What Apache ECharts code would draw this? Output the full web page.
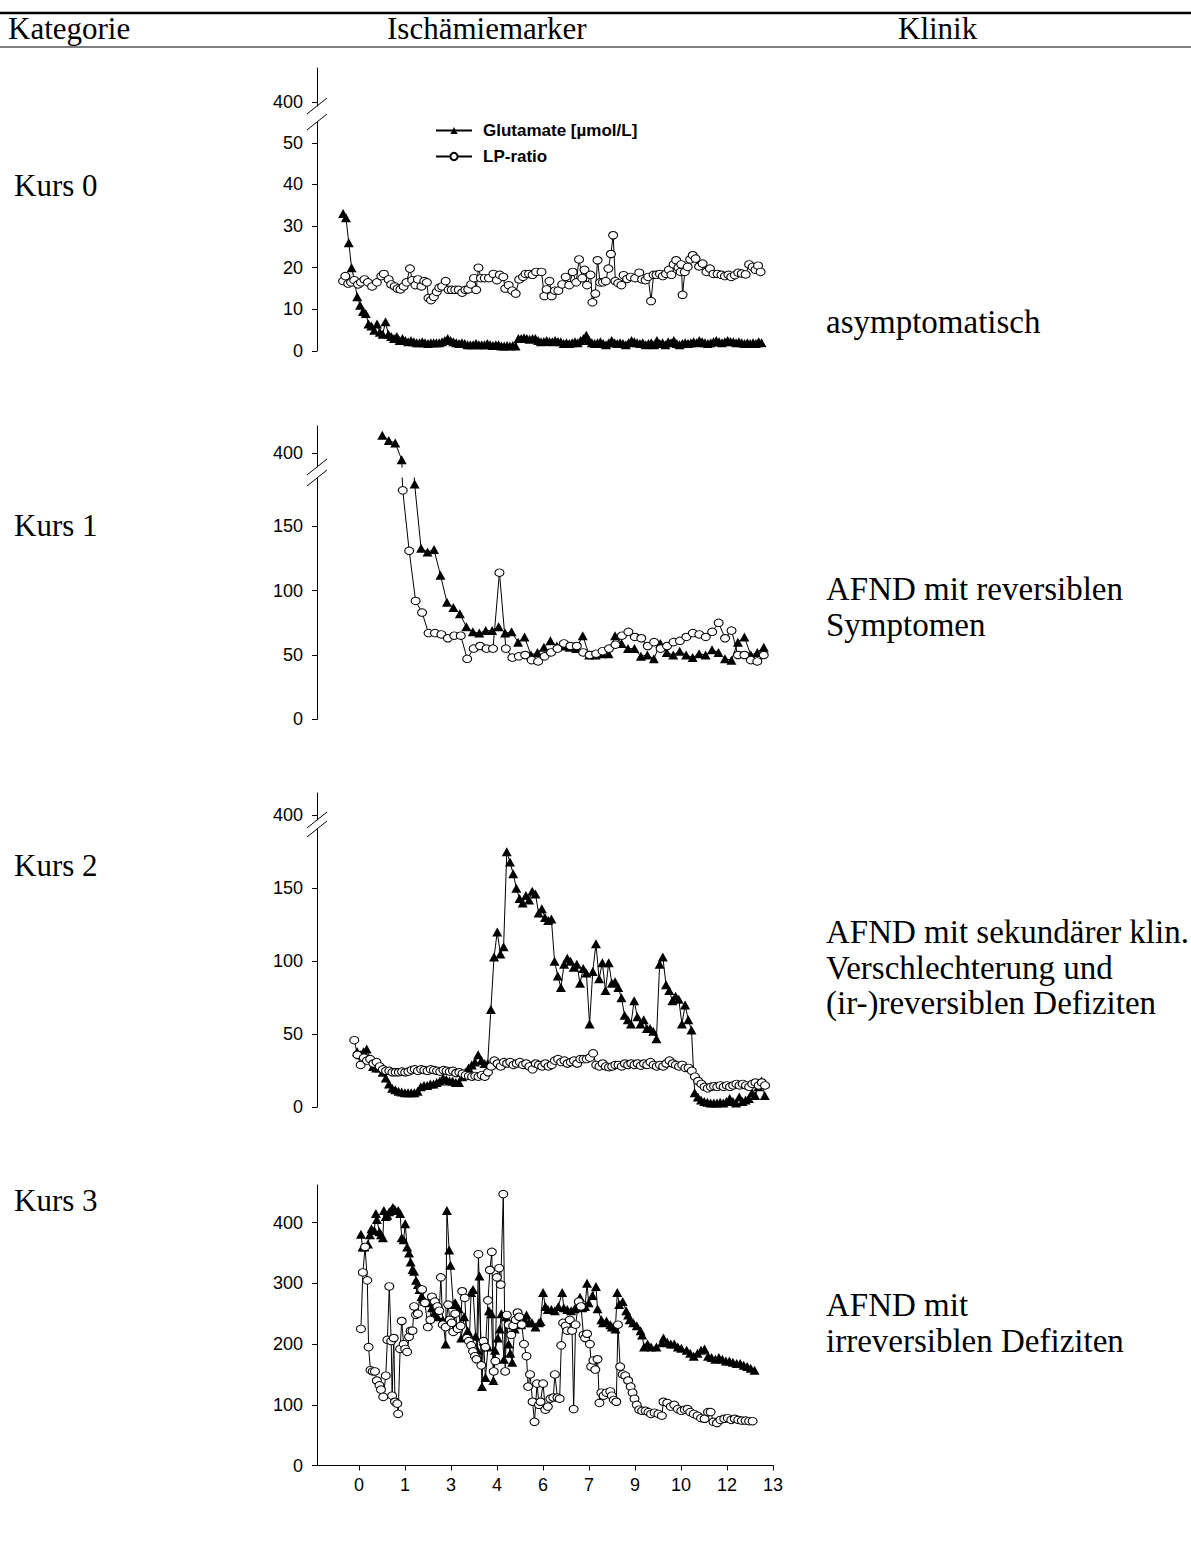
<!DOCTYPE html>
<html lang="de">
<head>
<meta charset="UTF-8" />
<title>Ischämiemarker</title>
<style>
  html, body { margin: 0; padding: 0; background: #fff; }
  #main { width: 1191px; height: 1557px; }
</style>
</head>
<body>
<div id="main"></div>
<script src="https://cdn.jsdelivr.net/npm/echarts@6.0.0/dist/echarts.min.js"></script>
<script>
// ===== Daten =====
const headers = ['Kategorie', 'Ischämiemarker', 'Klinik'];
const kategorien = ['Kurs 0', 'Kurs 1', 'Kurs 2', 'Kurs 3'];
const klinik = [
  ['asymptomatisch'],
  ['AFND mit reversiblen', 'Symptomen'],
  ['AFND mit sekundärer klin.', 'Verschlechterung und', '(ir-)reversiblen Defiziten'],
  ['AFND mit', 'irreversiblen Defiziten']
];
const seriesNames = ['Glutamate [µmol/L]', 'LP-ratio'];

// x-Achse (Tage), gleichmäßige Ticks
const xTickLabels = ['0', '1', '3', '4', '6', '7', '9', '10', '12', '13'];
const xTickStep = 13 / 9;

// y-Ticks
const breakTicks = [400];
const kurs0Ticks = [0, 10, 20, 30, 40, 50];
const kurs1Ticks = [0, 50, 100, 150];
const kurs2Ticks = [0, 50, 100, 150];
const kurs3Ticks = [0, 100, 200, 300, 400];

// Kurs 0 – Glutamat, regelmäßig von Tag -0.50 bis 12.64
const kurs0GluTime = [-0.50, 12.64];
const kurs0Glu = [33, 32, 26, 20, 17, 13, 11, 9.5, 9, 6.5,
  6, 5, 6.5, 4.5, 4, 7, 4, 3.5, 3, 3.5,
  2.5, 3, 2.5, 2.2, 2.5, 2.2, 2, 2, 2.2, 2,
  1.8, 2, 2, 2, 2, 2.2, 2.5, 3, 2.5, 2.2, 2, 1.8,
  2, 1.8, 1.5, 1.5, 1.5, 1.8, 1.5, 1.5, 1.5, 1.8,
  1.5, 1.3, 1.5, 1.5, 1.2, 1.2, 1.3, 1.2, 1.3, 1.2, 3, 3,
  3.2, 3, 2.8, 3, 3, 2.5, 2.2, 2.3, 2.5, 2.3,
  2.2, 2.5, 2.3, 2.2, 1.8, 2, 1.8, 2, 2.2,
  2, 2.5, 3, 3.8, 2.5, 2, 1.8, 2, 2.2, 1.8,
  1.5, 2, 2.5, 2, 1.8, 2, 1.8, 1.5, 2, 2.5,
  2.2, 2, 1.8, 2, 1.5, 1.8, 2, 1.5, 2.5, 1.8,
  2, 1.5, 2.2, 2, 2.5, 1.8, 1.5, 1.8, 2, 1.8,
  2, 2.2, 2, 2.5, 2.2, 2, 1.8, 2, 2.2, 2.5,
  2.2, 2, 2.2, 2.5, 2.3, 2.2, 2, 2.2, 2, 1.8,
  2, 1.8, 2, 1.8, 2.2, 2];

// Kurs 0 – LP-ratio [Tag, Wert]
const kurs0Lp = [[-0.50,16.8],[-0.43,18],[-0.34,16.2],[-0.25,16.5],[-0.15,17],[-0.03,16],[0.06,16.5],[0.17,17.2],[0.28,16.5],[0.41,15.5],
  [0.56,16.5],[0.70,18],[0.78,18.5],[0.93,17.2],[1.01,16],[1.12,15.5],[1.21,15],[1.30,14.8],[1.40,15.5],[1.49,16.5],
  [1.60,19.8],[1.67,17],[1.77,15.8],[1.85,17.2],[1.96,15.5],[2.05,16.8],[2.13,16.5],[2.18,12.7],[2.26,12.2],[2.35,13],
  [2.44,14.2],[2.52,15.2],[2.61,15.5],[2.72,16.8],[2.81,14.7],[2.91,14.7],[3.02,14.7],[3.13,14.7],[3.24,14],[3.34,14.7],
  [3.43,14.8],[3.52,16],[3.61,17.5],[3.68,14.7],[3.75,20],[3.83,17.5],[3.95,17.5],[4.08,17.5],[4.22,18.5],[4.33,17],
  [4.42,18.3],[4.53,17.8],[4.59,15],[4.70,15.8],[4.81,14.5],[4.92,13.8],[5.03,17.2],[5.15,17.8],[5.23,18.5],[5.34,18.5],
  [5.45,18.3],[5.56,19],[5.73,19],[5.82,13.2],[5.89,14.8],[5.98,16.8],[6.05,13.2],[6.15,14.5],[6.26,14.5],[6.38,16],
  [6.49,17.8],[6.60,15.8],[6.71,19],[6.82,16.5],[6.91,22],[7.01,17.5],[7.08,19.5],[7.16,15.8],[7.27,18.3],[7.33,11.7],
  [7.42,13.8],[7.49,21.8],[7.57,16.5],[7.66,16.5],[7.75,16.8],[7.83,19.8],[7.91,23.3],[7.98,27.8],[8.05,16.8],[8.14,16.3],
  [8.24,15.8],[8.31,18.2],[8.42,17.3],[8.53,17.8],[8.67,17.5],[8.80,18.8],[8.89,17.2],[9.00,17],[9.08,17.8],[9.17,12],
  [9.25,18.3],[9.34,18.3],[9.45,18.5],[9.54,18],[9.64,18.5],[9.73,19.5],[9.81,18.3],[9.88,20.8],[9.96,21.8],[10.03,20],
  [10.10,19],[10.12,20.8],[10.16,13.5],[10.23,19],[10.32,20.2],[10.40,22],[10.48,23],[10.57,22.2],[10.68,20.3],[10.79,21],
  [10.91,19],[11.02,19.8],[11.13,18.5],[11.26,18.5],[11.38,18.3],[11.49,18],[11.60,18.3],[11.69,17.8],[11.80,18.2],[11.91,18.8],
  [12.02,18.6],[12.14,18.4],[12.25,20.8],[12.36,20.2],[12.45,19.5],[12.53,20.5],[12.61,19]];

// Kurs 1 – regelmäßig (Werte im Achsenbruch sind nicht sichtbar)
const kurs1GluTime = [0.73, 12.71];
const kurs1Glu = [414, 410, 408, 395, 280, 183, 133, 130, 132, 112,
  91, 87, 82, 72, 68, 67, 69, 69, 72, 67,
  68, 60, 64, 50, 52, 56, 61, 57, 57, 56,
  55, 65, 50, 50, 51, 51, 65, 59, 55, 55,
  49, 50, 47, 59, 52, 50, 53, 50, 48, 51,
  50, 54, 52, 47, 46, 60, 64, 50, 52, 56];
const kurs1LpTime = [1.17, 12.71];
const kurs1Lp = [300, 178, 131, 92, 83, 67, 67, 66, 63, 65,
  65, 47, 55, 57, 55, 55, 114, 55, 48, 49,
  50, 46, 45, 49, 52, 55, 59, 57, 57, 52,
  50, 51, 53, 55, 58, 65, 68, 64, 63, 57,
  60, 55, 57, 60, 61, 64, 67, 66, 64, 68,
  75, 63, 69, 50, 50, 46, 45, 50];

// Kurs 2 – regelmäßig
const kurs2GluTime = [-0.06, 12.74];
const kurs2Glu = [38, 36, 38, 40, 33, 28, 27, 27, 24, 20,
  16, 13, 12, 11, 10.5, 10, 10, 10, 10, 11,
  14, 15, 15, 16, 16, 17, 18, 20, 19, 18,
  18, 17, 17, 21, 24, 27, 29, 31, 36, 32,
  30, 30, 67, 103, 120, 105, 110, 175, 168, 160,
  150, 143, 140, 145, 142, 148, 146, 133, 136, 130,
  128, 129, 100, 90, 82, 98, 102, 100, 96, 98,
  85, 95, 92, 57, 93, 112, 88, 99, 80, 99,
  85, 86, 82, 75, 63, 60, 57, 73, 62, 57,
  60, 54, 54, 52, 47, 98, 103, 84, 80, 73,
  76, 74, 57, 70, 60, 53, 10, 7, 5, 4,
  3.5, 3, 3, 3, 3.5, 3, 4, 6, 4, 3,
  7, 4, 5, 6, 10, 8, 14, 18, 8];
const kurs2LpTime = [-0.15, 12.75];
const kurs2Lp = [46, 36, 29, 34, 32, 33, 30, 31, 28, 26,
  25, 25, 24, 24, 24, 24.5, 24, 24.5, 25.5, 26,
  25, 26, 25.5, 25, 26, 25.5, 25, 24.5, 25.5, 25,
  24.5, 25, 23.5, 24, 23, 22, 21.5, 21, 21.5, 21,
  22, 21, 24, 28, 32, 30, 28, 31, 30, 31,
  29, 30, 31, 29, 30, 28, 26, 30, 29, 28,
  30, 28, 29, 32, 33, 31, 32, 30, 31, 32,
  30, 33, 33, 33, 34, 37, 29, 28, 30, 28,
  27.5, 28, 29, 29, 28, 30, 29, 30, 29, 30,
  28.5, 30, 29, 31, 29, 28, 29, 28, 30, 32,
  30, 29, 28, 29, 27, 27, 25, 21, 18, 16,
  14, 13, 14, 14.5, 14, 15, 14, 15, 14, 15,
  16, 15, 16, 15, 14, 16, 17, 15, 17, 15];

// Kurs 3 – [Tag, Wert]
const kurs3Glu = [[0.06,381],[0.11,360],[0.17,360],[0.28,365],[0.34,380],[0.39,390],[0.48,387],[0.53,415],[0.56,405],[0.64,385],
  [0.69,380],[0.75,375],[0.78,420],[0.84,410],[0.89,412],[0.95,418],[1.01,420],[1.06,425],[1.12,422],[1.23,420],
  [1.29,415],[1.34,375],[1.40,372],[1.45,398],[1.51,360],[1.57,350],[1.62,335],[1.68,323],[1.73,320],[1.79,305],
  [1.85,298],[1.90,290],[1.96,278],[2.01,275],[2.07,270],[2.18,268],[2.29,260],[2.35,250],[2.46,245],[2.63,240],
  [2.72,200],[2.76,420],[2.83,355],[2.87,330],[2.96,265],[3.02,268],[3.13,258],[3.21,210],[3.30,245],[3.41,222],
  [3.47,215],[3.52,285],[3.58,290],[3.66,213],[3.72,190],[3.78,312],[3.86,130],[3.91,205],[3.97,145],[4.05,195],
  [4.08,255],[4.16,250],[4.22,140],[4.27,190],[4.36,210],[4.42,225],[4.47,250],[4.55,175],[4.62,245],[4.70,200],
  [4.75,185],[4.81,170],[4.89,225],[4.98,240],[5.09,232],[5.20,240],[5.26,248],[5.34,235],[5.43,235],[5.54,228],
  [5.65,235],[5.70,237],[5.78,285],[5.85,262],[5.93,257],[6.04,257],[6.15,255],[6.26,262],[6.38,285],[6.43,260],
  [6.54,257],[6.66,255],[6.77,258],[6.88,265],[6.94,277],[7.01,260],[7.10,262],[7.16,300],[7.21,268],[7.33,280],
  [7.44,295],[7.49,258],[7.61,240],[7.66,235],[7.77,238],[7.89,232],[7.94,228],[8.05,225],[8.11,285],[8.17,265],
  [8.28,270],[8.39,255],[8.45,248],[8.50,240],[8.61,235],[8.72,230],[8.84,222],[8.89,215],[8.95,195],[9.06,200],
  [9.17,195],[9.34,195],[9.51,202],[9.56,210],[9.68,203],[9.79,200],[9.90,200],[10.01,195],[10.12,193],[10.29,190],
  [10.40,185],[10.51,180],[10.63,185],[10.74,190],[10.85,192],[10.96,180],[11.07,178],[11.19,175],[11.30,178],[11.41,175],
  [11.52,172],[11.63,172],[11.74,170],[11.86,168],[11.97,168],[12.08,165],[12.19,163],[12.30,160],[12.42,157]];
const kurs3Lp = [[0.06,225],[0.12,318],[0.19,360],[0.26,305],[0.30,195],[0.36,157],[0.43,155],[0.50,155],[0.56,140],[0.64,132],
  [0.69,125],[0.76,113],[0.84,148],[0.89,207],[0.95,295],[1.01,205],[1.04,115],[1.09,210],[1.13,105],[1.20,102],
  [1.23,85],[1.29,192],[1.34,238],[1.40,200],[1.45,192],[1.51,187],[1.57,212],[1.62,222],[1.68,222],[1.73,262],
  [1.79,248],[1.85,250],[1.94,290],[1.98,290],[2.07,268],[2.16,228],[2.24,240],[2.29,278],[2.38,270],[2.46,262],
  [2.52,255],[2.57,310],[2.63,232],[2.72,228],[2.80,265],[2.85,240],[2.91,235],[2.96,220],[3.02,250],[3.10,225],
  [3.19,230],[3.24,287],[3.32,276],[3.39,210],[3.45,205],[3.52,198],[3.58,188],[3.64,180],[3.69,175],[3.75,348],
  [3.84,165],[3.91,205],[3.97,195],[4.05,272],[4.11,322],[4.17,352],[4.23,155],[4.28,172],[4.33,310],[4.40,325],
  [4.45,298],[4.53,447],[4.59,155],[4.64,248],[4.70,232],[4.78,215],[4.84,230],[4.92,240],[4.98,252],[5.03,245],
  [5.11,232],[5.18,200],[5.26,180],[5.31,130],[5.37,150],[5.45,105],[5.51,72],[5.59,135],[5.65,100],[5.70,105],
  [5.78,135],[5.85,92],[5.93,97],[6.01,110],[6.10,112],[6.15,150],[6.23,112],[6.30,110],[6.35,198],[6.41,235],
  [6.49,230],[6.54,222],[6.62,240],[6.69,222],[6.74,93],[6.80,232],[6.90,270],[6.97,262],[7.05,215],[7.10,210],
  [7.16,217],[7.25,200],[7.29,163],[7.36,173],[7.42,158],[7.49,175],[7.55,103],[7.61,120],[7.68,115],[7.77,120],
  [7.89,122],[7.94,115],[8.00,108],[8.08,105],[8.13,232],[8.20,163],[8.28,150],[8.36,148],[8.45,140],[8.53,130],
  [8.59,120],[8.65,110],[8.72,100],[8.80,92],[8.89,90],[9.00,90],[9.09,88],[9.17,85],[9.28,87],[9.40,85],
  [9.51,82],[9.56,105],[9.68,103],[9.79,97],[9.90,100],[10.01,93],[10.12,90],[10.23,92],[10.32,93],[10.40,88],
  [10.51,85],[10.63,82],[10.74,78],[10.85,77],[10.96,88],[11.04,88],[11.13,72],[11.24,70],[11.35,75],[11.47,77],
  [11.58,78],[11.69,75],[11.80,77],[11.91,75],[12.02,74],[12.14,74],[12.25,73],[12.36,73]];
// ===== Daten Ende =====

function evenly(time, values) {
  const dt = (time[1] - time[0]) / (values.length - 1);
  return values.map((v, i) => [time[0] + i * dt, v]);
}

const panelData = [
  { glu: evenly(kurs0GluTime, kurs0Glu), lp: kurs0Lp },
  { glu: evenly(kurs1GluTime, kurs1Glu), lp: evenly(kurs1LpTime, kurs1Lp) },
  { glu: evenly(kurs2GluTime, kurs2Glu), lp: evenly(kurs2LpTime, kurs2Lp) },
  { glu: kurs3Glu, lp: kurs3Lp }
];

// Layout: jeder Kurs hat ein oder zwei Segmente (Achsenbruch)
const SERIF = '"Liberation Serif", "Times New Roman", serif';
const SANS = '"Liberation Sans", Arial, sans-serif';
const plotLeft = 317, plotWidth = 456;
const xMin = -1.32, xMax = 13;

const panelLayout = [
  { segs: [{ top: 68, bottom: 106, min: 396, max: 434, ticks: breakTicks },
           { top: 122, bottom: 351, min: 0, max: 55, ticks: kurs0Ticks }], breaks: [106, 122] },
  { segs: [{ top: 426, bottom: 467, min: 389.3, max: 421.2, ticks: breakTicks },
           { top: 478, bottom: 719.3, min: 0, max: 187.6, ticks: kurs1Ticks }], breaks: [467, 478] },
  { segs: [{ top: 793, bottom: 820, min: 396.6, max: 415.1, ticks: breakTicks },
           { top: 829, bottom: 1107.3, min: 0, max: 190.6, ticks: kurs2Ticks }], breaks: [820, 829] },
  { segs: [{ top: 1185, bottom: 1465.5, min: 0, max: 462, ticks: kurs3Ticks }], breaks: [] }
];

const xTickValues = xTickLabels.map((_, i) => i * xTickStep);

const grids = [], xAxes = [], yAxes = [], series = [];
panelLayout.forEach((panel, p) => {
  panel.segs.forEach((seg, s) => {
    const g = grids.length;
    const isBottom = p === panelLayout.length - 1 && s === panel.segs.length - 1;
    grids.push({ left: plotLeft, width: plotWidth, top: seg.top, height: seg.bottom - seg.top });
    xAxes.push({
      type: 'value', gridIndex: g, min: xMin, max: xMax, show: isBottom,
      axisLine: { show: true, onZero: false, lineStyle: { color: '#000', width: 1 } },
      axisTick: { show: true, length: 5, customValues: xTickValues, lineStyle: { color: '#000' } },
      axisLabel: {
        show: true, customValues: xTickValues, margin: 10,
        color: '#000', fontFamily: SANS, fontSize: 18,
        formatter: v => xTickLabels[Math.round(v / xTickStep)]
      },
      splitLine: { show: false }
    });
    yAxes.push({
      type: 'value', gridIndex: g, min: seg.min, max: seg.max,
      axisLine: { show: true, onZero: false, lineStyle: { color: '#000', width: 1 } },
      axisTick: { show: true, length: 5, customValues: seg.ticks, lineStyle: { color: '#000' } },
      axisLabel: {
        show: true, customValues: seg.ticks, margin: 14,
        color: '#000', fontFamily: SANS, fontSize: 18,
        formatter: v => (seg.ticks.includes(v) ? String(v) : '')
      },
      splitLine: { show: false }
    });
    series.push({
      type: 'line', name: seriesNames[0], xAxisIndex: g, yAxisIndex: g,
      data: panelData[p].glu,
      symbol: 'triangle', symbolSize: [10, 9], showAllSymbol: true,
      lineStyle: { color: '#000', width: 1 },
      itemStyle: { color: '#000' },
      emphasis: { disabled: true }, silent: true, z: 2
    });
    series.push({
      type: 'line', name: seriesNames[1], xAxisIndex: g, yAxisIndex: g,
      data: panelData[p].lp,
      symbol: 'circle', symbolSize: [9, 7.5], showAllSymbol: true,
      lineStyle: { color: '#000', width: 1 },
      itemStyle: { color: '#fff', borderColor: '#000', borderWidth: 1 },
      emphasis: { disabled: true }, silent: true, z: 3
    });
  });
});

// Grafik: Kopfzeile, Beschriftungen, Bruchzeichen
const graphics = [
  { type: 'line', shape: { x1: 0, y1: 13, x2: 1191, y2: 13 }, style: { stroke: '#000', lineWidth: 2.5 } },
  { type: 'line', shape: { x1: 0, y1: 47, x2: 1191, y2: 47 }, style: { stroke: '#000', lineWidth: 1.2 } }
];
const headerX = [8, 387, 898];
headers.forEach((h, i) => {
  graphics.push({ type: 'text', x: headerX[i], y: 28,
    style: { text: h, font: '31px ' + SERIF, fill: '#000', textVerticalAlign: 'middle' } });
});
const kursY = [185, 525, 865, 1200];
kategorien.forEach((k, i) => {
  graphics.push({ type: 'text', x: 14, y: kursY[i],
    style: { text: k, font: '31px ' + SERIF, fill: '#000', textVerticalAlign: 'middle' } });
});
const klinikY = [322, 589, 932, 1305];
klinik.forEach((lines, i) => {
  lines.forEach((t, j) => {
    graphics.push({ type: 'text', x: 826, y: klinikY[i] + j * 35.5,
      style: { text: t, font: '33px ' + SERIF, fill: '#000', textVerticalAlign: 'middle' } });
  });
});
panelLayout.forEach(panel => {
  panel.breaks.forEach(yc => {
    graphics.push({ type: 'line', shape: { x1: plotLeft - 10, y1: yc + 8, x2: plotLeft + 10, y2: yc - 8 },
      style: { stroke: '#000', lineWidth: 1 } });
  });
});

const myChart = echarts.init(document.getElementById('main'), null, { renderer: 'svg' });
myChart.setOption({
  backgroundColor: '#fff',
  animation: false,
  grid: grids,
  xAxis: xAxes,
  yAxis: yAxes,
  series: series,
  legend: {
    data: seriesNames,
    left: 430, top: 117, orient: 'vertical',
    itemWidth: 36, itemHeight: 9, itemGap: 9,
    selectedMode: false,
    textStyle: { fontFamily: SANS, fontSize: 17, fontWeight: 'bold', color: '#000', padding: [0, 0, 0, 6] }
  },
  graphic: { elements: graphics }
});
</script>
</body>
</html>
